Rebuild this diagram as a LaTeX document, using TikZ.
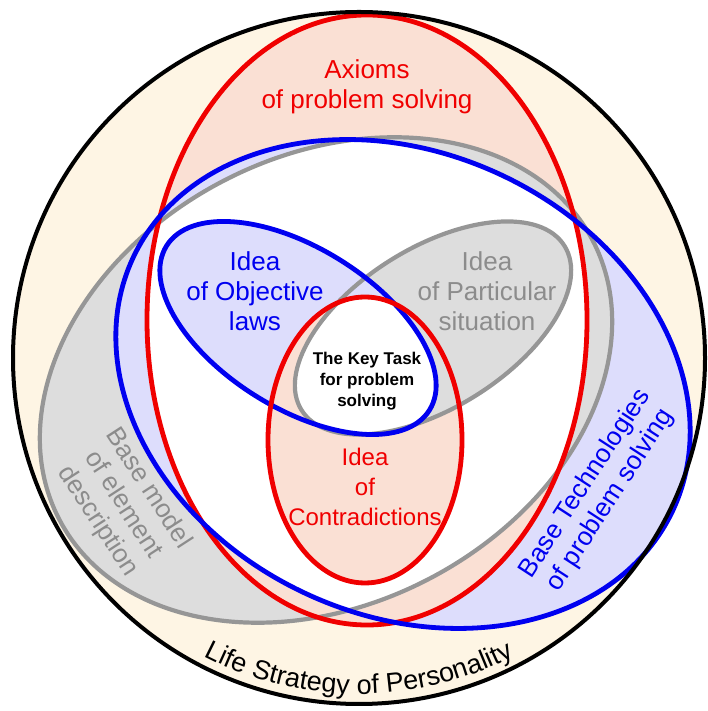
\documentclass[tikz,border=0pt]{standalone}
\usepackage{fontspec}
\setmainfont{Liberation Sans}
\usetikzlibrary{decorations.text}
\definecolor{cream}{RGB}{254,245,228}
\definecolor{pinkf}{RGB}{250,224,212}
\definecolor{greyf}{RGB}{221,221,221}
\definecolor{bluef}{RGB}{221,221,252}
\definecolor{redl}{RGB}{240,0,0}
\definecolor{bluel}{RGB}{0,0,240}
\definecolor{greyl}{RGB}{150,150,150}
\definecolor{greyt}{RGB}{140,140,140}
\begin{document}
\begin{tikzpicture}[x=1pt,y=1pt,
  redline/.style={draw=redl, line width=4.8pt},
  blueline/.style={draw=bluel, line width=4.8pt},
  greyline/.style={draw=greyl, line width=4.2pt},
  lbl/.style={align=center, inner sep=0pt, font=\fontsize{26}{30}\selectfont},
  keylbl/.style={align=center, inner sep=0pt, font=\fontsize{17}{21}\selectfont\bfseries}]
\useasboundingbox (0,0) rectangle (707,711);
\coordinate (cO) at (359,353);
\coordinate (cR) at (367,391);
\coordinate (cG) at (326,331);
\coordinate (cB) at (403,327);
\coordinate (sB) at (298,383);
\coordinate (sG) at (433,383);
\coordinate (sR) at (365,271);
% background disc
\fill[cream] (cO) circle [radius=346];
% big fills
\fill[pinkf] (cR) ellipse [x radius=220, y radius=305];
\fill[greyf] (cG) ellipse [x radius=301, y radius=224, rotate=27.7];
\fill[bluef] (cB) ellipse [x radius=298, y radius=231, rotate=-25.1];
\begin{scope}
  \clip (cR) ellipse [x radius=220, y radius=305];
  \clip (0,0) rectangle (707,311);
  \fill[pinkf] (0,0) rectangle (707,711);
\end{scope}
\begin{scope}
  \clip (cG) ellipse [x radius=301, y radius=224, rotate=27.7];
  \clip (550,0) rectangle (707,711);
  \fill[greyf] (0,0) rectangle (707,711);
\end{scope}
\begin{scope}
  \clip (cR) ellipse [x radius=220, y radius=305];
  \clip (cG) ellipse [x radius=301, y radius=224, rotate=27.7];
  \fill[white] (cB) ellipse [x radius=298, y radius=231, rotate=-25.1];
\end{scope}
% small fills
\fill[bluef] (sB) ellipse [x radius=155, y radius=80, rotate=-32];
\fill[pinkf] (sR) ellipse [x radius=97, y radius=143];
\fill[greyf] (sG) ellipse [x radius=155, y radius=80, rotate=32];
\begin{scope}
  \clip (sB) ellipse [x radius=155, y radius=80, rotate=-32];
  \fill[bluef] (sG) ellipse [x radius=155, y radius=80, rotate=32];
\end{scope}
\begin{scope}
  \clip (sB) ellipse [x radius=155, y radius=80, rotate=-32];
  \clip (sG) ellipse [x radius=155, y radius=80, rotate=32];
  \fill[white] (sR) ellipse [x radius=97, y radius=143];
\end{scope}
% outlines
\draw[greyline] (cG) ellipse [x radius=301, y radius=224, rotate=27.7];
\draw[redline] (cR) ellipse [x radius=220, y radius=305];
\draw[blueline] (cB) ellipse [x radius=298, y radius=231, rotate=-25.1];
\draw[greyline] (sG) ellipse [x radius=155, y radius=80, rotate=32];
\draw[blueline] (sB) ellipse [x radius=155, y radius=80, rotate=-32];
\draw[redline] (sR) ellipse [x radius=97, y radius=143];
\draw[black, line width=4pt] (cO) circle [radius=346];
% labels
\node[lbl, text=redl] (axioms) at (367,624) {Axioms\\of problem solving};
\node[lbl, text=bluel] (objective) at (255,420) {Idea\\of Objective\\laws};
\node[lbl, text=greyt] (particular) at (487,420) {Idea\\of Particular\\situation};
\node[lbl, text=redl, font=\fontsize{24}{30}\selectfont] (contra) at (365,224) {Idea\\of\\Contradictions};
\node[keylbl] (keytask) at (367,330) {The Key Task\\for problem\\solving};
\node[lbl, text=greyt, rotate=-57] (basemodel) at (123,206) {Base model\\of element\\description};
\node[lbl, text=bluel, rotate=57] (basetech) at (598,219) {Base Technologies\\of problem solving};
\path (cO) ++(215:336) coordinate (tS);
\path[decorate, decoration={text along path, text align=center,
  text={|\fontsize{27}{27}\selectfont|Life Strategy of Personality}}]
  (tS) arc [start angle=215, end angle=325, radius=336];
\end{tikzpicture}
\end{document}
